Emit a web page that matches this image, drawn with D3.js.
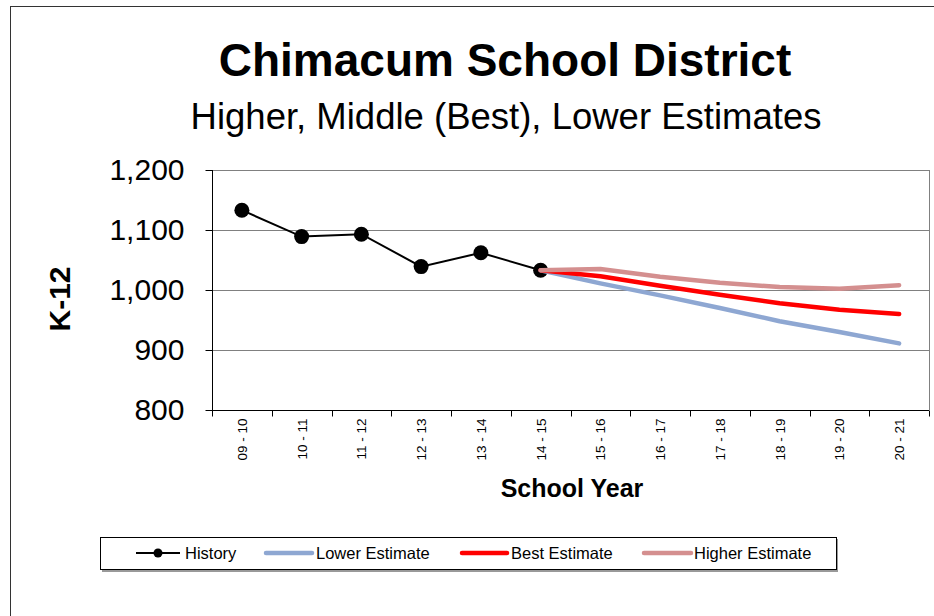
<!DOCTYPE html>
<html><head><meta charset="utf-8">
<script src="https://cdn.jsdelivr.net/npm/d3@7"></script>
<style>body{margin:0;background:#fff}svg{display:block}text{font-family:Arial,"Liberation Sans",sans-serif}</style>
</head><body>
<script>
const categories = ["09 - 10","10 - 11","11 - 12","12 - 13","13 - 14","14 - 15","15 - 16","16 - 17","17 - 18","18 - 19","19 - 20","20 - 21"];
const historyValues = [1133, 1089, 1093, 1039, 1062, 1033];
const forecastCats = ["14 - 15","15 - 16","16 - 17","17 - 18","18 - 19","19 - 20","20 - 21"];
const lowerValues  = [1033, 1011, 991, 970, 948, 930, 911];
const bestValues   = [1033, 1023, 1007, 992, 978, 967, 960];
const higherValues = [1033, 1035, 1022, 1012, 1005, 1002, 1008];
const yTicks = [800, 900, 1000, 1100, 1200];

const W = 934, H = 616;
const svg = d3.select("body").append("svg").attr("width", W).attr("height", H);

// outer frame
svg.append("rect").attr("x", 10.5).attr("y", 6.5).attr("width", 1000).attr("height", 1000)
  .attr("fill", "none").attr("stroke", "#333").attr("stroke-width", 1);

const L = 212, R = 929, T = 170, B = 410;
const x = d3.scaleBand().domain(categories).range([L, R]);
const y = d3.scaleLinear().domain([800, 1200]).range([B, T]);
const cx = d => x(d) + x.bandwidth() / 2;

// gridlines
svg.append("g").selectAll("line").data(yTicks.filter(v => v > 800)).join("line")
  .attr("x1", L).attr("x2", R).attr("y1", d => Math.round(y(d)) + 0.5).attr("y2", d => Math.round(y(d)) + 0.5)
  .attr("stroke", "#808080").attr("stroke-width", 1);
// right border
svg.append("line").attr("x1", R + 0.5).attr("x2", R + 0.5).attr("y1", T).attr("y2", B)
  .attr("stroke", "#808080");

// y axis
const yAxis = d3.axisLeft(y).tickValues(yTicks).tickSize(7).tickPadding(21).tickFormat(d3.format(","));
const gy = svg.append("g").attr("transform", `translate(${L + 0.5},0)`).call(yAxis);
gy.select(".domain").remove();
gy.append("line").attr("y1", T).attr("y2", B).attr("stroke", "#000");
gy.selectAll(".tick line").attr("stroke", "#000");
gy.selectAll("text").attr("font-size", 30).attr("fill", "#000").attr("font-family", "Arial, 'Liberation Sans', sans-serif");

// x axis
const gx = svg.append("g").attr("transform", `translate(0,${B + 0.5})`);
gx.append("line").attr("x1", L).attr("x2", R).attr("stroke", "#000");
const bounds = categories.map(c => x(c)).concat([R]);
gx.selectAll("line.tk").data(bounds).join("line").attr("class", "tk")
  .attr("x1", d => Math.round(d) + 0.5).attr("x2", d => Math.round(d) + 0.5).attr("y1", 0).attr("y2", 6).attr("stroke", "#000");
gx.selectAll("text").data(categories).join("text")
  .attr("transform", d => `translate(${cx(d) + 5},8) rotate(-90)`)
  .attr("text-anchor", "end").attr("font-size", 13.5).attr("fill", "#000").text(d => d);

// axis titles
svg.append("text").attr("x", 572).attr("y", 497).attr("text-anchor", "middle")
  .attr("font-size", 25).attr("font-weight", "bold").text("School Year");
svg.append("text").attr("transform", "translate(70,299) rotate(-90)").attr("text-anchor", "middle")
  .attr("font-size", 30).attr("font-weight", "bold").text("K-12");

// titles
svg.append("text").attr("x", 505).attr("y", 76).attr("text-anchor", "middle")
  .attr("font-size", 46).attr("font-weight", "bold").text("Chimacum School District");
svg.append("text").attr("x", 506).attr("y", 129).attr("text-anchor", "middle")
  .attr("font-size", 36.5).text("Higher, Middle (Best), Lower Estimates");

// series
const line = d3.line().x(d => cx(d[0])).y(d => y(d[1]));
const histData = historyValues.map((v, i) => [categories[i], v]);
svg.append("path").datum(histData).attr("d", line).attr("fill", "none").attr("stroke", "#000").attr("stroke-width", 2);
svg.append("g").selectAll("circle").data(histData).join("circle")
  .attr("cx", d => cx(d[0])).attr("cy", d => y(d[1])).attr("r", 7.5).attr("fill", "#000");

const series = [
  {name: "Lower Estimate", values: lowerValues, color: "#8EA7D2"},
  {name: "Best Estimate", values: bestValues, color: "#FF0000"},
  {name: "Higher Estimate", values: higherValues, color: "#D48F8F"}
];
series.forEach(s => {
  svg.append("path").datum(s.values.map((v, i) => [forecastCats[i], v])).attr("d", line)
    .attr("fill", "none").attr("stroke", s.color).attr("stroke-width", 4.5).attr("stroke-linecap", "round").attr("stroke-linejoin", "round");
});

// legend
svg.append("rect").attr("x", 102).attr("y", 539).attr("width", 736).attr("height", 33).attr("fill", "#999");
svg.append("rect").attr("x", 100.5).attr("y", 537.5).attr("width", 736).attr("height", 32).attr("fill", "#fff").attr("stroke", "#000");
const legendItems = [
  {name: "History", color: "#000", x1: 136, x2: 180, tx: 185, w: 2, marker: true},
  {name: "Lower Estimate", color: "#8EA7D2", x1: 266, x2: 312, tx: 316, w: 4.5},
  {name: "Best Estimate", color: "#FF0000", x1: 462, x2: 507, tx: 511, w: 4.5},
  {name: "Higher Estimate", color: "#D48F8F", x1: 644, x2: 691, tx: 694, w: 4.5}
];
const ly = 553;
const lg = svg.append("g").selectAll("g").data(legendItems).join("g");
lg.append("line").attr("x1", d => d.x1).attr("x2", d => d.x2).attr("y1", ly).attr("y2", ly)
  .attr("stroke", d => d.color).attr("stroke-width", d => d.w).attr("stroke-linecap", d => d.marker ? "butt" : "round");
lg.filter(d => d.marker).append("circle").attr("cx", d => (d.x1 + d.x2) / 2).attr("cy", ly).attr("r", 4.5).attr("fill", "#000");
lg.append("text").attr("x", d => d.tx).attr("y", ly + 6).attr("font-size", 16.5).attr("fill", "#000").text(d => d.name);
</script>
</body></html>
